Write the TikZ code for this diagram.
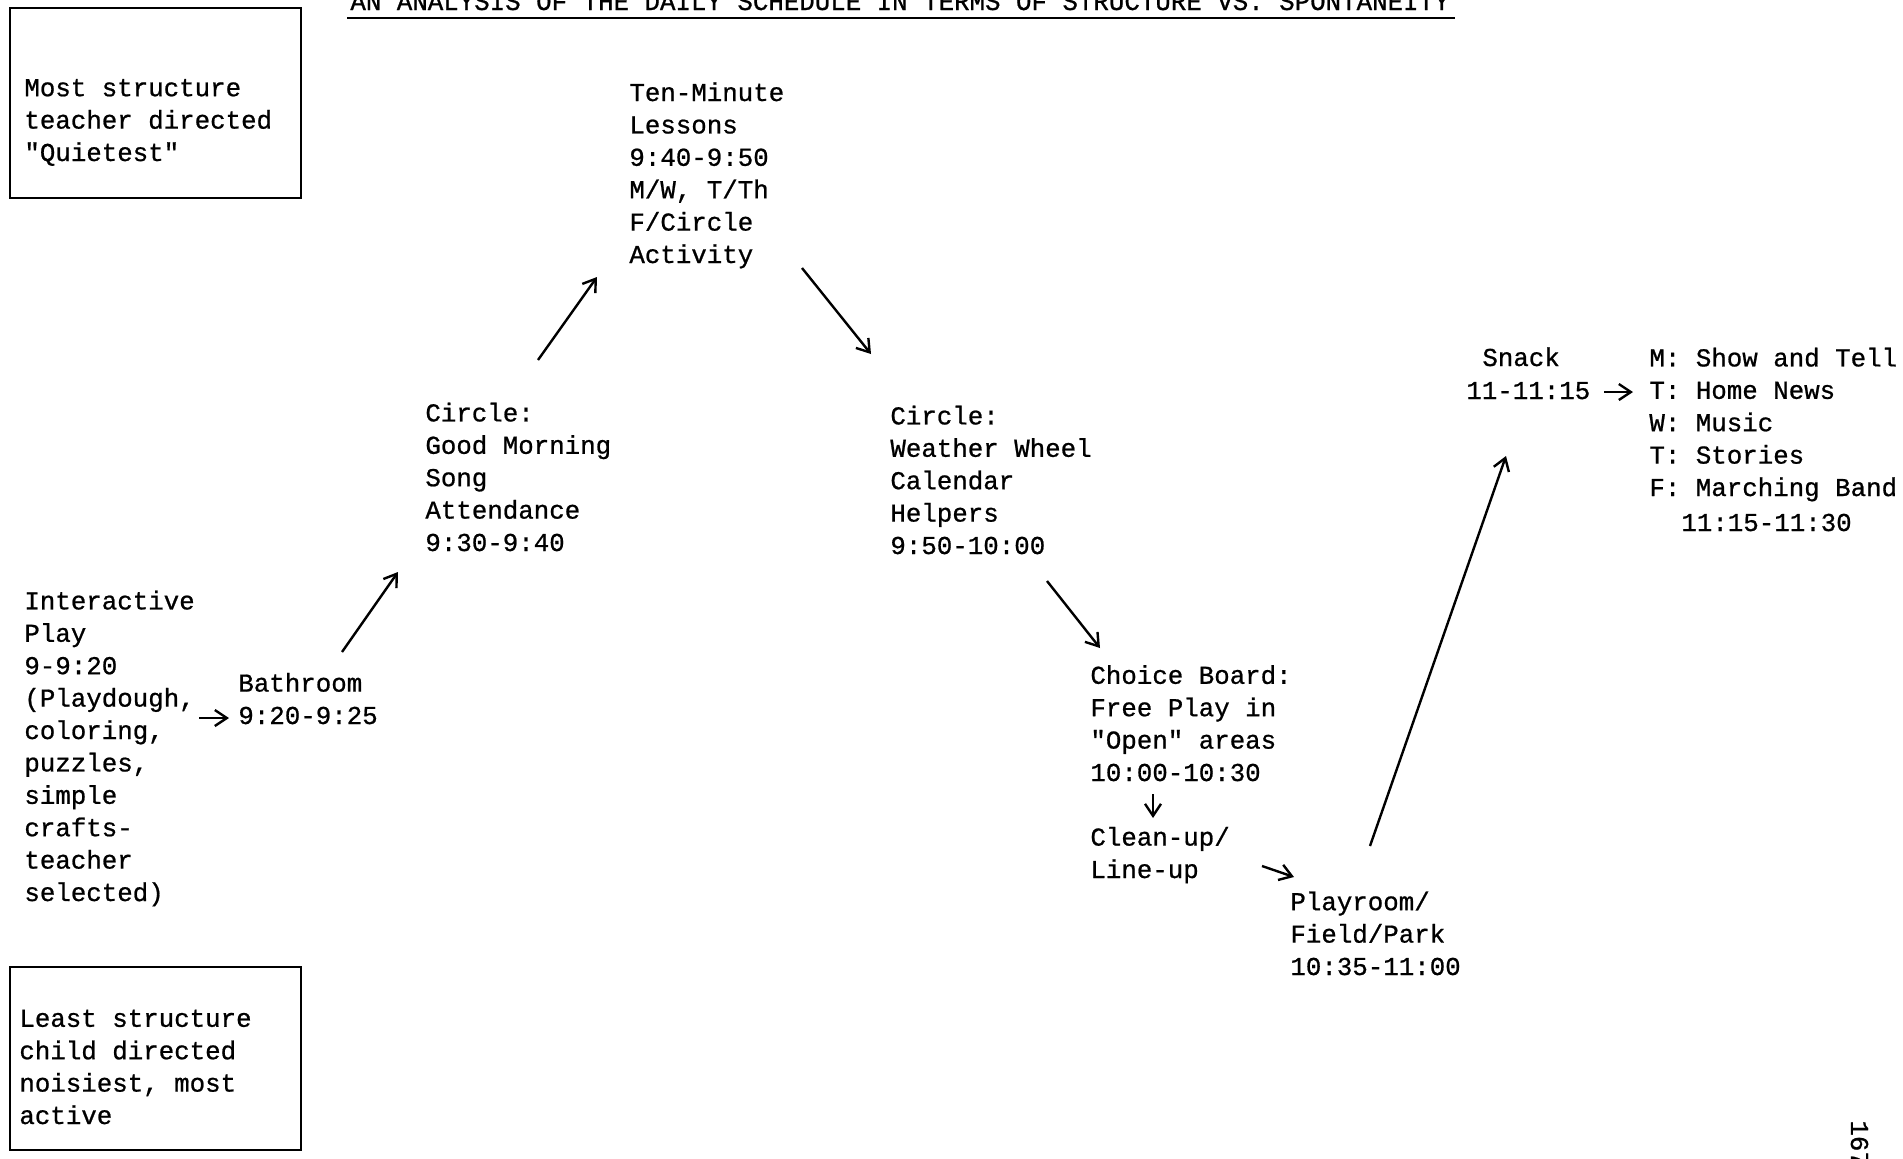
\documentclass[tikz,border=0pt]{standalone}
\usepackage{fontspec}
\usetikzlibrary{arrows.meta}
\newfontfamily\tw{Liberation Mono}[FakeBold=0.8]
\begin{document}
\begin{tikzpicture}[x=0.5pt,y=-0.5pt,
  txt/.style={anchor=base west, inner sep=0pt, align=left, font=\tw\fontsize{12.9}{16.2}\selectfont},
  arr/.style={line width=1.2pt, -{Straight Barb[length=6pt,width=8pt,line width=1.2pt]}},
  framebox/.style={draw, line width=1pt}]
\useasboundingbox[fill=white] (0,0) rectangle (1903,1158);

% title (cut off at the top); base anchor = last (only) line
\node[txt] (title) at (350,10) {AN ANALYSIS OF THE DAILY SCHEDULE IN TERMS OF STRUCTURE VS. SPONTANEITY};
\draw[line width=1.2pt] (347,18) -- (1455,18);

% legend boxes (node positions give the baseline of the last line)
\draw[framebox] (10,8) rectangle (301,198);
\node[txt] (most) at (24,161) {Most structure\\teacher directed\\"Quietest"};
\draw[framebox] (10,967) rectangle (301,1150);
\node[txt] (least) at (19,1124) {Least structure\\child directed\\noisiest, most\\active};

% schedule items
\node[txt] (inter) at (24,901) {Interactive\\Play\\9-9:20\\(Playdough,\\coloring,\\puzzles,\\simple\\crafts-\\teacher\\selected)};
\node[txt] (bath) at (238,724) {Bathroom\\9:20-9:25};
\node[txt] (gm) at (425,551) {Circle:\\Good Morning\\Song\\Attendance\\9:30-9:40};
\node[txt] (ten) at (629,263) {Ten-Minute\\Lessons\\9:40-9:50\\M/W, T/Th\\F/Circle\\Activity};
\node[txt] (weather) at (890,554) {Circle:\\Weather Wheel\\Calendar\\Helpers\\9:50-10:00};
\node[txt] (choice) at (1090,781) {Choice Board:\\Free Play in\\"Open" areas\\10:00-10:30};
\node[txt] (clean) at (1090,878) {Clean-up/\\Line-up};
\node[txt] (play) at (1290,975) {Playroom/\\Field/Park\\10:35-11:00};
\node[txt] (snack) at (1482,366) {Snack};
\node[txt] (snacktime) at (1466,399) {11-11:15};
\node[txt] (days) at (1649,496) {M: Show and Tell\\T: Home News\\W: Music\\T: Stories\\F: Marching Band};
\node[txt] (daystime) at (1681,531) {11:15-11:30};

% page number (cut off at the bottom)
\node[txt, anchor=base west, rotate=-90] (page) at (1851,1120) {167};

% arrow end points
\coordinate (a1s) at (199,718); \coordinate (a1e) at (229,718);
\coordinate (a2s) at (342,652); \coordinate (a2e) at (398,572);
\coordinate (a3s) at (538,360); \coordinate (a3e) at (597,277);
\coordinate (a4s) at (802,268); \coordinate (a4e) at (871,354);
\coordinate (a5s) at (1047,581); \coordinate (a5e) at (1100,648);
\coordinate (a6s) at (1153,794); \coordinate (a6e) at (1153,818);
\coordinate (a7s) at (1262,866); \coordinate (a7e) at (1294,877);
\coordinate (a8s) at (1370,846); \coordinate (a8e) at (1506,456);
\coordinate (a9s) at (1604,392); \coordinate (a9e) at (1633,392);

\draw[arr] (a1s) -- (a1e);
\draw[arr] (a2s) -- (a2e);
\draw[arr] (a3s) -- (a3e);
\draw[arr] (a4s) -- (a4e);
\draw[arr] (a5s) -- (a5e);
\draw[arr] (a6s) -- (a6e);
\draw[arr] (a7s) -- (a7e);
\draw[arr] (a8s) -- (a8e);
\draw[arr] (a9s) -- (a9e);
\end{tikzpicture}
\end{document}
